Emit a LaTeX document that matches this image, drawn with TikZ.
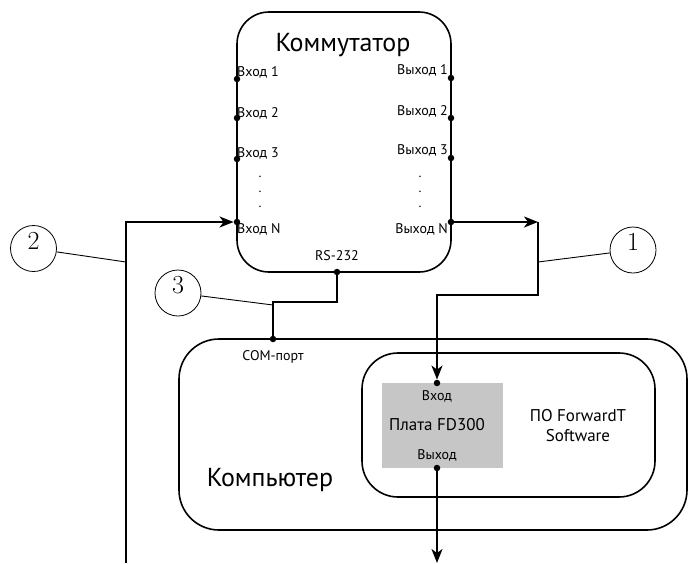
\documentclass[tikz,border=0pt]{standalone}
\usepackage{fontspec}
\setsansfont{PT Sans}
\usetikzlibrary{arrows.meta}
\definecolor{boardgray}{HTML}{C6C6C6}
\tikzset{
  box/.style={draw, line width=1.6pt, inner sep=0pt},
  wire/.style={line width=1.7pt},
  arr/.style={wire, -{Stealth[length=14pt,width=11pt,inset=4pt]}},
  port/.style={circle, fill=black, inner sep=0pt, minimum size=6.5pt},
  lbl/.style={font=\sffamily\fontsize{14}{15}\selectfont, inner sep=1pt},
  vdots/.style={font=\sffamily\fontsize{13.5}{15}\selectfont, inner sep=0pt, align=center},
  big/.style={font=\sffamily\fontsize{26}{28}\selectfont},
  mid/.style={font=\sffamily\fontsize{17}{20}\selectfont, align=center},
  num/.style={draw, circle, line width=0.8pt, minimum size=46pt, inner sep=0pt},
  digit/.style={inner sep=0pt, font=\fontsize{26}{28}\selectfont},
  leader/.style={line width=0.9pt}
}
\begin{document}
\begin{tikzpicture}[x=1pt,y=-1pt]
\useasboundingbox (0,0) rectangle (689,563);
% Switch box
\node[box, rounded corners=32pt, minimum width=214pt, minimum height=260pt] (kom) at (344,142) {};
\node[big] (komt) at (343,45) {Коммутатор};
% inputs
\node[port] (in1) at (237,79) {};
\node[port] (in2) at (237,118) {};
\node[port] (in3) at (237,159) {};
\node[port] (inN) at (237,222) {};
\node[lbl, anchor=west] (lin1) at (236,72) {Вход 1};
\node[lbl, anchor=west] (lin2) at (236,113) {Вход 2};
\node[lbl, anchor=west] (lin3) at (236,153) {Вход 3};
\node[lbl, anchor=west] (linN) at (236,229) {Вход N};
\node[vdots] (ldotsl) at (260,192) {.\\.\\.};
% outputs
\node[port] (out1) at (451,78) {};
\node[port] (out2) at (451,118) {};
\node[port] (out3) at (451,158) {};
\node[port] (outN) at (451,222) {};
\node[lbl, anchor=east] (lout1) at (449,70) {Выход 1};
\node[lbl, anchor=east] (lout2) at (449,111) {Выход 2};
\node[lbl, anchor=east] (lout3) at (449,150) {Выход 3};
\node[lbl, anchor=east] (loutN) at (449,229) {Выход N};
\node[vdots] (ldotsr) at (420,192) {.\\.\\.};
% RS-232
\node[port] (rs) at (337,272) {};
\node[lbl] (lrs) at (337,256) {RS-232};
% Computer
\node[box, rounded corners=40pt, minimum width=508pt, minimum height=191pt] (pc) at (433,434.5) {};
\node[big] (pct) at (270,480) {Компьютер};
\node[port] (com) at (273,339) {};
\node[lbl] (lcom) at (273,357) {COM-порт};
% Software box
\node[box, rounded corners=36pt, minimum width=293pt, minimum height=144pt] (sw) at (508.5,425) {};
\node[mid] (swt) at (578,426) {ПО ForwardT\\Software};
% Board
\node[fill=boardgray, minimum width=121pt, minimum height=85pt, inner sep=0pt] (board) at (442.5,425.5) {};
\node[mid] (boardt) at (437,425) {Плата FD300};
\node[lbl] (lvin) at (437,396) {Вход};
\node[lbl] (lvout) at (437,455) {Выход};
\node[port] (vin) at (437,383) {};
\node[port] (vout) at (437,468) {};
% coordinates
\coordinate (b2) at (126,563);
\coordinate (k2) at (126,222);
\coordinate (a1) at (538,222);
\coordinate (r1) at (538,295);
\coordinate (rsk) at (337,302);
\coordinate (bot) at (437,563);
\coordinate (t2) at (126,262);
\coordinate (t3) at (273,305);
\coordinate (t1) at (538,262);
% wires
\draw[arr] (b2) -- (k2) -- (inN);
\draw[arr] (outN) -- (a1);
\draw[arr] (a1) -- (r1) -| (vin);
\draw[wire] (rs) -- (rsk) -| (com);
\draw[arr] (vout) -- (bot);
% numbered circles
\node[num] (c2) at (33.5,248.5) {};
\node[num] (c3) at (178,293) {};
\node[num] (c1) at (633,250) {};
\node[digit] (d2) at (33.5,241) {2};
\node[digit] (d3) at (178,285.5) {3};
\node[digit] (d1) at (633,242) {1};
\draw[leader] (c2) -- (t2);
\draw[leader] (c3) -- (t3);
\draw[leader] (c1) -- (t1);
\end{tikzpicture}
\end{document}
